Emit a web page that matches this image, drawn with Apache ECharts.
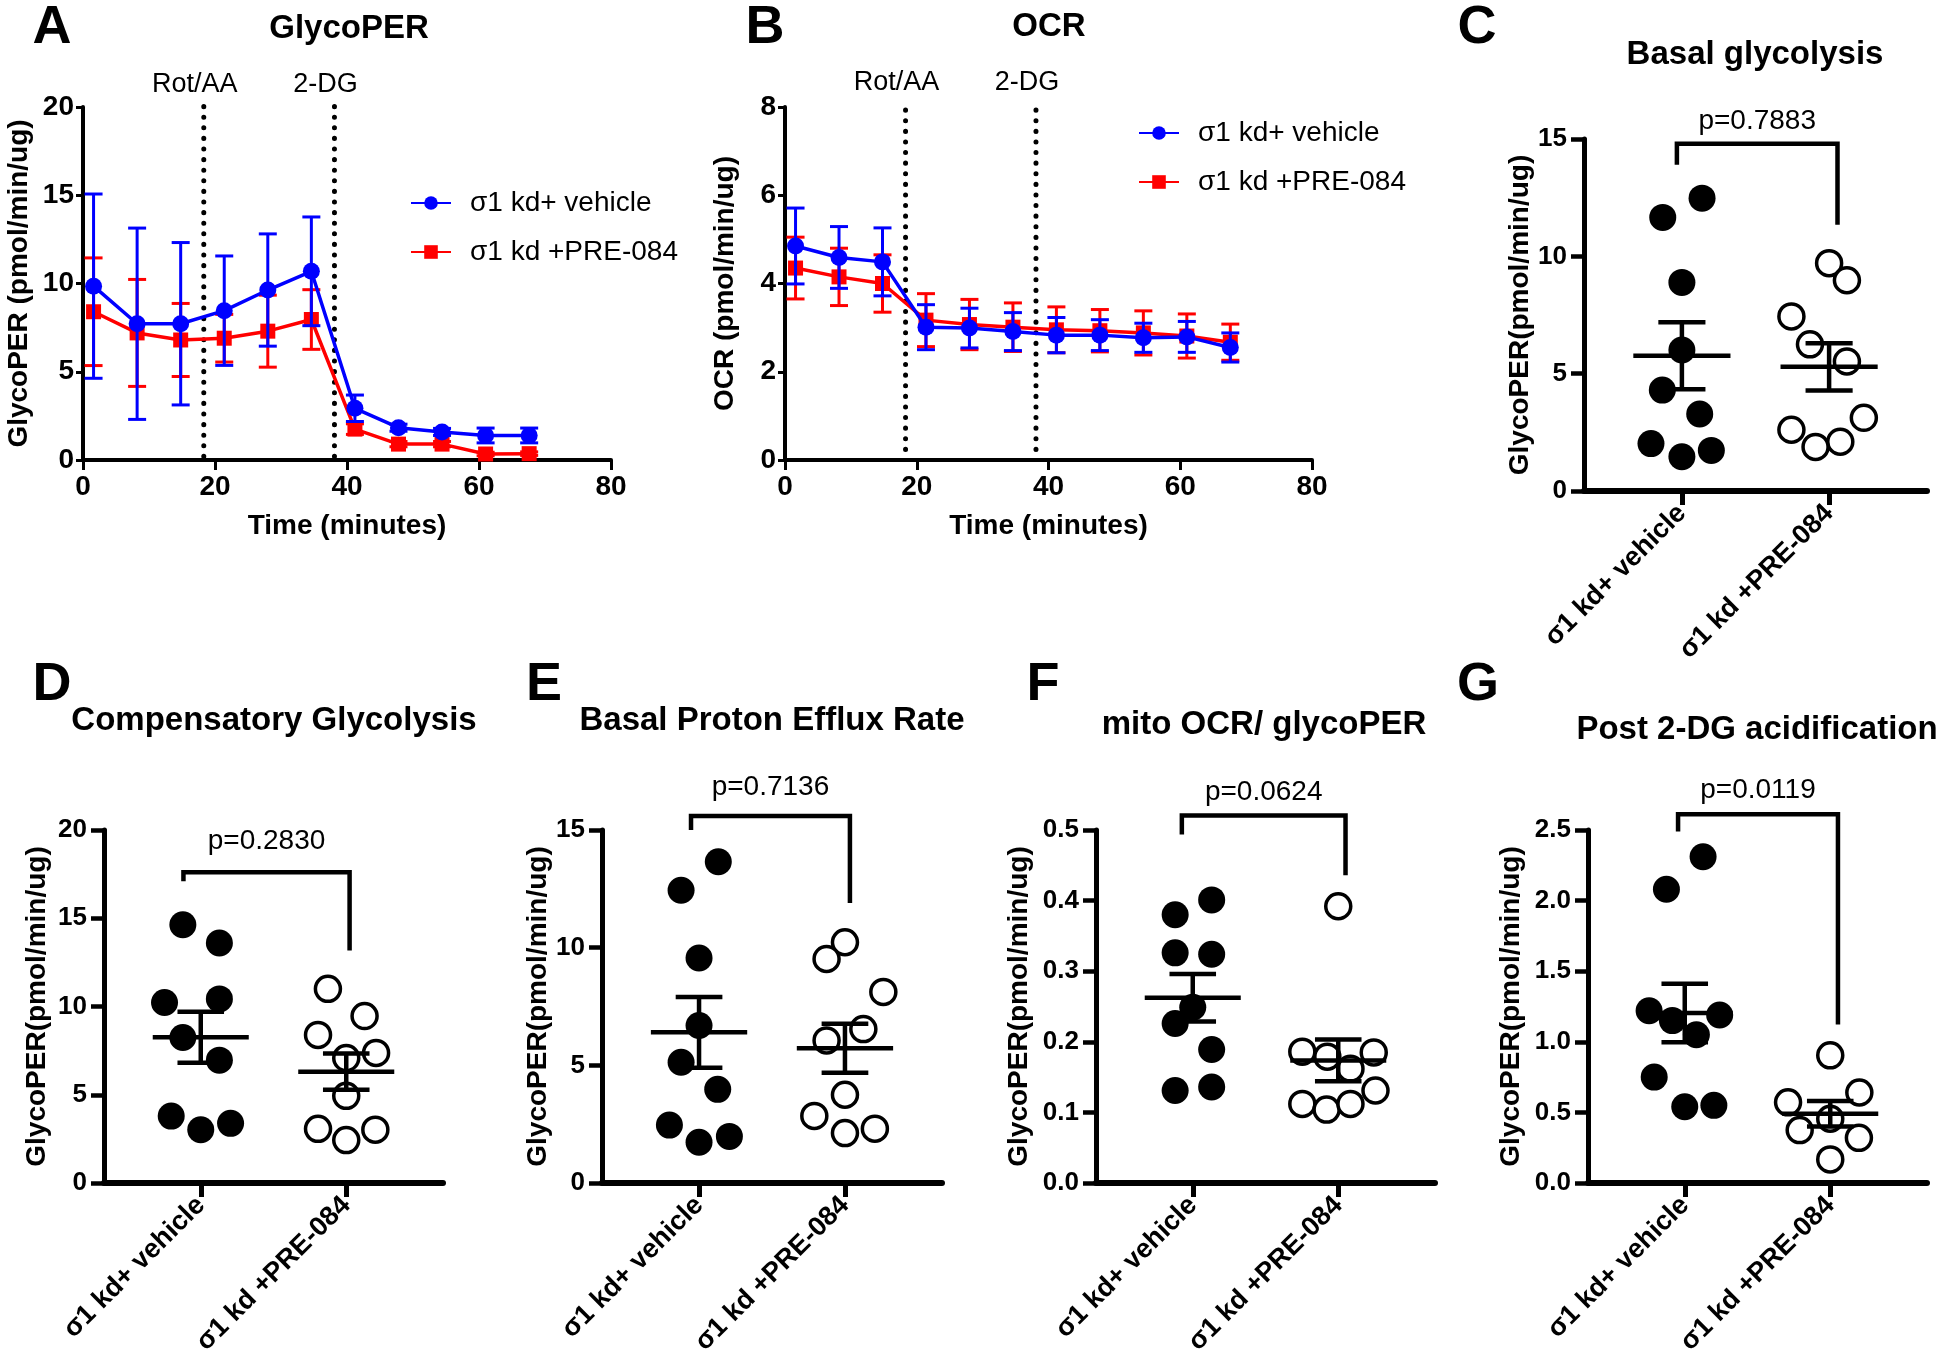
<!DOCTYPE html>
<html>
<head>
<meta charset="utf-8">
<title>GlycoPER / OCR</title>
<script src="https://cdn.jsdelivr.net/npm/echarts@6/dist/echarts.min.js"></script>
<style>
html,body{margin:0;padding:0;background:#ffffff;}
#chart{width:1950px;height:1366px;}
</style>
</head>
<body>
<div id="chart"></div>
<script>
// ================= DATA =================
const timeMinutes = [1.6, 8.2, 14.8, 21.4, 28.0, 34.6, 41.2, 47.8, 54.4, 61.0, 67.6];
const injectionTimes = [18.3, 38.1];
const injectionNames = ['Rot/AA', '2-DG'];
const groupNames = ['σ1 kd+ vehicle', 'σ1 kd +PRE-084'];
const timeTicks = [0, 20, 40, 60, 80];

// A: GlycoPER time course (mean, SEM)
const glycoTicks = [0, 5, 10, 15, 20];
const glycoVehicleMean = [9.85, 7.72, 7.72, 8.46, 9.63, 10.69, 2.93, 1.83, 1.59, 1.39, 1.39];
const glycoVehicleSem  = [5.22, 5.42, 4.60, 3.10, 3.18, 3.08, 0.75, 0.20, 0.20, 0.42, 0.42];
const glycoPreMean     = [8.40, 7.20, 6.80, 6.90, 7.30, 7.96, 1.75, 0.90, 0.90, 0.34, 0.36];
const glycoPreSem      = [3.05, 3.03, 2.07, 1.35, 2.04, 1.69, 0.30, 0.15, 0.15, 0.10, 0.10];

// B: OCR time course (mean, SEM)
const ocrTicks = [0, 2, 4, 6, 8];
const ocrVehicleMean = [4.85, 4.59, 4.49, 3.01, 2.99, 2.91, 2.83, 2.83, 2.77, 2.79, 2.55];
const ocrVehicleSem  = [0.86, 0.70, 0.77, 0.51, 0.45, 0.43, 0.40, 0.35, 0.33, 0.35, 0.33];
const ocrPreMean     = [4.35, 4.15, 4.00, 3.17, 3.07, 3.01, 2.95, 2.93, 2.88, 2.81, 2.67];
const ocrPreSem      = [0.70, 0.65, 0.65, 0.60, 0.57, 0.55, 0.52, 0.48, 0.50, 0.50, 0.41];

// C-G: individual values
const basalTicks = [0, 5, 10, 15];
const basalVehicle = [12.48, 11.66, 8.89, 6.01, 4.30, 3.28, 2.02, 1.73, 1.46];
const basalPre     = [9.71, 8.98, 7.44, 6.25, 5.52, 3.12, 2.61, 2.10, 1.88];
const compTicks = [0, 5, 10, 15, 20];
const compVehicle = [14.63, 13.60, 10.23, 10.43, 8.24, 6.96, 3.79, 3.02, 3.38];
const compPre     = [11.00, 9.46, 8.39, 7.37, 7.08, 4.94, 3.07, 3.02, 2.43];
const bperTicks = [0, 5, 10, 15];
const bperVehicle = [13.65, 12.44, 9.56, 6.69, 5.13, 3.98, 2.46, 1.73, 1.98];
const bperPre     = [10.23, 9.52, 8.12, 6.54, 6.06, 3.75, 2.85, 2.12, 2.31];
const mitoTicks = [0, 0.1, 0.2, 0.3, 0.4, 0.5];
const mitoVehicle = [0.401, 0.380, 0.326, 0.324, 0.249, 0.226, 0.189, 0.131, 0.136];
const mitoPre     = [0.392, 0.186, 0.179, 0.185, 0.162, 0.131, 0.112, 0.104, 0.112];
const postTicks = [0, 0.5, 1.0, 1.5, 2.0, 2.5];
const postVehicle = [2.31, 2.08, 1.22, 1.19, 1.15, 1.05, 0.75, 0.54, 0.55];
const postPre     = [0.904, 0.641, 0.571, 0.455, 0.375, 0.320, 0.167];

// p values and bracket levels [top, left leg end, right leg end]
const pBasal = 'p=0.7883', bracketBasal = [14.8, 13.9, 11.35];
const pComp  = 'p=0.2830', bracketComp  = [17.6, 17.1, 13.17];
const pBper  = 'p=0.7136', bracketBper  = [15.6, 15.0, 11.9];
const pMito  = 'p=0.0624', bracketMito  = [0.5205, 0.4936, 0.436];
const pPost  = 'p=0.0119', bracketPost  = [2.612, 2.49, 1.122];

// horizontal scatter of the dots (fraction of category spacing)
const jitBasalVeh = [0.137, -0.13, 0, 0, -0.133, 0.121, -0.21, 0.2, 0];
const jitBasalPre = [0, 0.121, -0.256, -0.13, 0.121, 0.236, -0.256, 0.076, -0.092];
const jitCompVeh  = [-0.123, 0.128, -0.249, 0.128, -0.123, 0.128, -0.203, 0, 0.205];
const jitCompPre  = [-0.126, 0.126, -0.194, 0.205, 0, 0, -0.194, 0.2, 0];
const jitBperVeh  = [0.132, -0.123, 0, 0, -0.123, 0.128, -0.203, 0, 0.208];
const jitBperPre  = [0, -0.126, 0.263, 0.126, -0.126, 0, -0.21, 0, 0.205];
const jitMitoVeh  = [0.13, -0.121, -0.121, 0.13, 0, -0.121, 0.13, -0.121, 0.13];
const jitMitoPre  = [0, -0.247, -0.075, 0.244, 0.084, 0.256, -0.247, -0.08, 0.084];
const jitPostVeh  = [0.126, -0.126, -0.245, 0.24, -0.085, 0.08, -0.21, 0, 0.2];
const jitPostPre  = [0, 0.2, -0.29, 0, -0.21, 0.197, 0];

// ================= STYLE / LAYOUT =================
const FONT = "'Liberation Sans', Arial, Helvetica, sans-serif";
const BLUE = '#0000ff', RED = '#ff0000', BLACK = '#000000';

const grids = [], xAxes = [], yAxes = [], series = [], graphics = [], legends = [];

function addText(text, x, y, size, weight) {
  graphics.push({
    type: 'text', x: x, y: y, silent: true, z: 10,
    style: {text: text, fontSize: size, fontWeight: weight, fontFamily: FONT, fill: BLACK,
            align: 'center', verticalAlign: 'middle', textAlign: 'center', textVerticalAlign: 'middle'}
  });
}
function ticksRange(t) { return {min: t[0], max: t[t.length - 1], interval: +(t[1] - t[0]).toFixed(6)}; }
function line(x1, y1, x2, y2, color, w) {
  return {type: 'line', shape: {x1: x1, y1: y1, x2: x2, y2: y2}, style: {stroke: color, lineWidth: w}};
}

// ---------- time-course panels (A, B) ----------
const timePanels = [
  {grid: {left: 83, top: 107, width: 528, height: 353}, yTicks: glycoTicks, yName: 'GlycoPER (pmol/min/ug)', yNameGap: 50,
   veh: [glycoVehicleMean, glycoVehicleSem], pre: [glycoPreMean, glycoPreSem], markTop: 20.3, markBottom: 0.2,
   legend: {left: 410, top: 188}, title: ['GlycoPER', 349, 29], letter: ['A', 52, 28]},
  {grid: {left: 785, top: 107, width: 527, height: 353}, yTicks: ocrTicks, yName: 'OCR (pmol/min/ug)', yNameGap: 46,
   veh: [ocrVehicleMean, ocrVehicleSem], pre: [ocrPreMean, ocrPreSem], markTop: 8.16, markBottom: 0.24,
   legend: {left: 1138, top: 118}, title: ['OCR', 1049, 27], letter: ['B', 765, 28]}
];

function errorBars(gi, mean, sem, color, z) {
  return {
    type: 'custom', xAxisIndex: gi, yAxisIndex: gi, z: z, silent: true,
    data: timeMinutes.map((t, i) => [t, mean[i] - sem[i], mean[i] + sem[i]]),
    encode: {x: 0, y: [1, 2]},
    renderItem: function (params, api) {
      const lo = api.coord([api.value(0), api.value(1)]);
      const hi = api.coord([api.value(0), api.value(2)]);
      const w = 9;
      return {type: 'group', children: [
        line(lo[0], lo[1], hi[0], hi[1], color, 3),
        line(lo[0] - w, lo[1], lo[0] + w, lo[1], color, 3),
        line(hi[0] - w, hi[1], hi[0] + w, hi[1], color, 3)
      ]};
    }
  };
}

timePanels.forEach((p, gi) => {
  grids.push(Object.assign({outerBoundsMode: 'none', containLabel: false}, p.grid));
  const xr = ticksRange(timeTicks), yr = ticksRange(p.yTicks);
  xAxes.push({
    gridIndex: gi, type: 'value', min: xr.min, max: xr.max, interval: xr.interval,
    axisLine: {show: true, onZero: false, lineStyle: {color: BLACK, width: 4}},
    axisTick: {show: true, length: 10, lineStyle: {color: BLACK, width: 3}},
    axisLabel: {color: BLACK, fontSize: 28, fontWeight: 'bold', fontFamily: FONT, margin: 13},
    splitLine: {show: false},
    name: 'Time (minutes)', nameLocation: 'middle', nameGap: 52,
    nameTextStyle: {color: BLACK, fontSize: 28, fontWeight: 'bold', fontFamily: FONT}
  });
  yAxes.push({
    gridIndex: gi, type: 'value', min: yr.min, max: yr.max, interval: yr.interval,
    axisLine: {show: true, onZero: false, lineStyle: {color: BLACK, width: 4}},
    axisTick: {show: true, length: 7, lineStyle: {color: BLACK, width: 3}},
    axisLabel: {color: BLACK, fontSize: 28, fontWeight: 'bold', fontFamily: FONT, margin: 9},
    splitLine: {show: false},
    name: p.yName, nameLocation: 'middle', nameGap: p.yNameGap,
    nameTextStyle: {color: BLACK, fontSize: 28, fontWeight: 'bold', fontFamily: FONT}
  });
  // injection markers
  series.push({
    type: 'custom', xAxisIndex: gi, yAxisIndex: gi, z: 1, silent: true,
    data: injectionTimes.map((t, i) => [t, i]),
    encode: {x: 0},
    renderItem: function (params, api) {
      const x = api.value(0);
      const b = api.coord([x, p.markBottom]);
      const t = api.coord([x, p.markTop]);
      return {type: 'group', children: [
        {type: 'line', shape: {x1: b[0], y1: b[1], x2: t[0], y2: t[1]},
         style: {stroke: BLACK, lineWidth: 5, lineDash: [0.1, 10.5], lineCap: 'round'}},
        {type: 'text', x: t[0] - 9, y: t[1] - 17,
         style: {text: injectionNames[api.value(1)], fontSize: 27, fontFamily: FONT, fill: BLACK,
                 align: 'center', verticalAlign: 'middle'}}
      ]};
    }
  });
  series.push(errorBars(gi, p.pre[0], p.pre[1], RED, 2));
  series.push({
    name: groupNames[1], type: 'line', xAxisIndex: gi, yAxisIndex: gi, z: 3,
    data: timeMinutes.map((t, i) => [t, p.pre[0][i]]),
    symbol: 'rect', symbolSize: 15,
    lineStyle: {color: RED, width: 3.5}, itemStyle: {color: RED, opacity: 1}, emphasis: {disabled: true}
  });
  series.push(errorBars(gi, p.veh[0], p.veh[1], BLUE, 4));
  series.push({
    name: groupNames[0], type: 'line', xAxisIndex: gi, yAxisIndex: gi, z: 5,
    data: timeMinutes.map((t, i) => [t, p.veh[0][i]]),
    symbol: 'circle', symbolSize: 17,
    lineStyle: {color: BLUE, width: 3.5}, itemStyle: {color: BLUE, opacity: 1}, emphasis: {disabled: true}
  });
  legends.push({
    left: p.legend.left, top: p.legend.top, orient: 'vertical', padding: 0,
    itemWidth: 40, itemHeight: 17, itemGap: 19, selectedMode: false,
    data: groupNames,
    textStyle: {color: BLACK, fontSize: 28, fontFamily: FONT, lineHeight: 30, padding: [0, 0, 0, 14]}
  });
  addText(p.title[0], p.title[1], p.title[2], 33, 'bold');
  addText(p.letter[0], p.letter[1], p.letter[2], 54, 'bold');
});

// ---------- dot-plot panels (C-G) ----------
const yTitle = 'GlycoPER(pmol/min/ug)';
const dotPanels = [
  {grid: {left: 1584, top: 139, width: 343, height: 352}, ticks: basalTicks, dec: 0, veh: basalVehicle, pre: basalPre,
   jv: jitBasalVeh, jp: jitBasalPre, p: pBasal, br: bracketBasal, bx: [0.966, 2.057], pOff: 22, nameGap: 49,
   title: ['Basal glycolysis', 1755, 55], letter: ['C', 1477, 28]},
  {grid: {left: 104, top: 830, width: 339, height: 353}, ticks: compTicks, dec: 0, veh: compVehicle, pre: compPre,
   jv: jitCompVeh, jp: jitCompPre, p: pComp, br: bracketComp, bx: [0.881, 2.023], pOff: 31, nameGap: 53,
   title: ['Compensatory Glycolysis', 274, 721], letter: ['D', 52, 685]},
  {grid: {left: 602, top: 830, width: 340, height: 353}, ticks: bperTicks, dec: 0, veh: bperVehicle, pre: bperPre,
   jv: jitBperVeh, jp: jitBperPre, p: pBper, br: bracketBper, bx: [0.945, 2.034], pOff: 29, nameGap: 50,
   title: ['Basal Proton Efflux Rate', 772, 721], letter: ['E', 544, 685]},
  {grid: {left: 1096, top: 830, width: 339, height: 353}, ticks: mitoTicks, dec: 1, veh: mitoVehicle, pre: mitoPre,
   jv: jitMitoVeh, jp: jitMitoPre, p: pMito, br: bracketMito, bx: [0.925, 2.05], pOff: 23, nameGap: 63,
   title: ['mito OCR/ glycoPER', 1264, 725], letter: ['F', 1043, 685]},
  {grid: {left: 1588, top: 830, width: 339, height: 353}, ticks: postTicks, dec: 1, veh: postVehicle, pre: postPre,
   jv: jitPostVeh, jp: jitPostPre, p: pPost, br: bracketPost, bx: [0.954, 2.053], pOff: 24, nameGap: 63,
   title: ['Post 2-DG acidification', 1757, 730], letter: ['G', 1478, 685]}
];

function meanSem(arr) {
  const n = arr.length;
  const m = arr.reduce((a, b) => a + b, 0) / n;
  const v = arr.reduce((a, b) => a + (b - m) * (b - m), 0) / (n - 1);
  return [m, Math.sqrt(v / n)];
}
const MEAN_HALF = 0.33, CAP_HALF = 0.16;

dotPanels.forEach((p, k) => {
  const gi = k + 2;
  grids.push(Object.assign({outerBoundsMode: 'none', containLabel: false}, p.grid));
  const yr = ticksRange(p.ticks);
  xAxes.push({
    gridIndex: gi, type: 'value', min: 0.335, max: 2.665,
    axisLine: {show: true, onZero: false, lineStyle: {color: BLACK, width: 6}},
    axisTick: {show: true, customValues: [1, 2], length: 14, lineStyle: {color: BLACK, width: 5}},
    axisLabel: {show: true, customValues: [1, 2], rotate: 45, margin: 18,
      formatter: v => groupNames[Math.round(v) - 1],
      color: BLACK, fontSize: 27, fontWeight: 'bold', fontFamily: FONT},
    splitLine: {show: false}
  });
  yAxes.push({
    gridIndex: gi, type: 'value', min: yr.min, max: yr.max, interval: yr.interval,
    axisLine: {show: true, onZero: false, lineStyle: {color: BLACK, width: 5}},
    axisTick: {show: true, length: 13, lineStyle: {color: BLACK, width: 4.5}},
    axisLabel: {color: BLACK, fontSize: 26, fontWeight: 'bold', fontFamily: FONT, margin: 17,
      formatter: v => v.toFixed(p.dec)},
    splitLine: {show: false},
    name: yTitle, nameLocation: 'middle', nameGap: p.nameGap,
    nameTextStyle: {color: BLACK, fontSize: 28, fontWeight: 'bold', fontFamily: FONT}
  });
  series.push({
    name: 'vehicle-' + k, type: 'scatter', xAxisIndex: gi, yAxisIndex: gi, z: 2, silent: true,
    data: p.veh.map((v, i) => [1 + p.jv[i], v]),
    symbol: 'circle', symbolSize: 27, itemStyle: {color: BLACK, opacity: 1}
  });
  series.push({
    name: 'pre-' + k, type: 'scatter', xAxisIndex: gi, yAxisIndex: gi, z: 2, silent: true,
    data: p.pre.map((v, i) => [2 + p.jp[i], v]),
    symbol: 'circle', symbolSize: 25, itemStyle: {color: '#ffffff', borderColor: BLACK, borderWidth: 3.5, opacity: 1}
  });
  const stats = [[1].concat(meanSem(p.veh)), [2].concat(meanSem(p.pre))];
  series.push({
    type: 'custom', xAxisIndex: gi, yAxisIndex: gi, z: 4, silent: true,
    data: stats, encode: {x: 0, y: 1},
    renderItem: function (params, api) {
      const c = api.value(0), m = api.value(1), s = api.value(2);
      const L = api.coord([c - MEAN_HALF, m]), R = api.coord([c + MEAN_HALF, m]);
      const T = api.coord([c, m + s]), B = api.coord([c, m - s]);
      const cl = api.coord([c - CAP_HALF, m])[0], cr = api.coord([c + CAP_HALF, m])[0];
      return {type: 'group', children: [
        line(L[0], L[1], R[0], R[1], BLACK, 4.5),
        line(T[0], T[1], B[0], B[1], BLACK, 4.5),
        line(cl, T[1], cr, T[1], BLACK, 4.5),
        line(cl, B[1], cr, B[1], BLACK, 4.5)
      ]};
    }
  });
  series.push({
    type: 'custom', xAxisIndex: gi, yAxisIndex: gi, z: 4, silent: true,
    data: [[p.bx[0], p.bx[1], p.br[0], p.br[1], p.br[2]]], encode: {x: [0, 1], y: [2, 3, 4]},
    renderItem: function (params, api) {
      const xl = api.value(0), xr = api.value(1), yt = api.value(2);
      const a = api.coord([xl, api.value(3)]), b = api.coord([xl, yt]);
      const c = api.coord([xr, yt]), d = api.coord([xr, api.value(4)]);
      return {type: 'group', children: [
        {type: 'polyline', shape: {points: [a, b, c, d]},
         style: {stroke: BLACK, lineWidth: 4.5, fill: null, lineJoin: 'miter'}},
        {type: 'text', x: (b[0] + c[0]) / 2, y: b[1] - p.pOff,
         style: {text: p.p, fontSize: 28, fontFamily: FONT, fill: BLACK, align: 'center', verticalAlign: 'middle'}}
      ]};
    }
  });
  addText(p.title[0], p.title[1], p.title[2], 33, 'bold');
  addText(p.letter[0], p.letter[1], p.letter[2], 54, 'bold');
});

const chart = echarts.init(document.getElementById('chart'), null, {renderer: 'canvas'});
chart.setOption({
  backgroundColor: '#ffffff',
  animation: false,
  textStyle: {fontFamily: FONT},
  grid: grids, xAxis: xAxes, yAxis: yAxes, legend: legends,
  series: series, graphic: graphics
});
</script>
</body>
</html>
